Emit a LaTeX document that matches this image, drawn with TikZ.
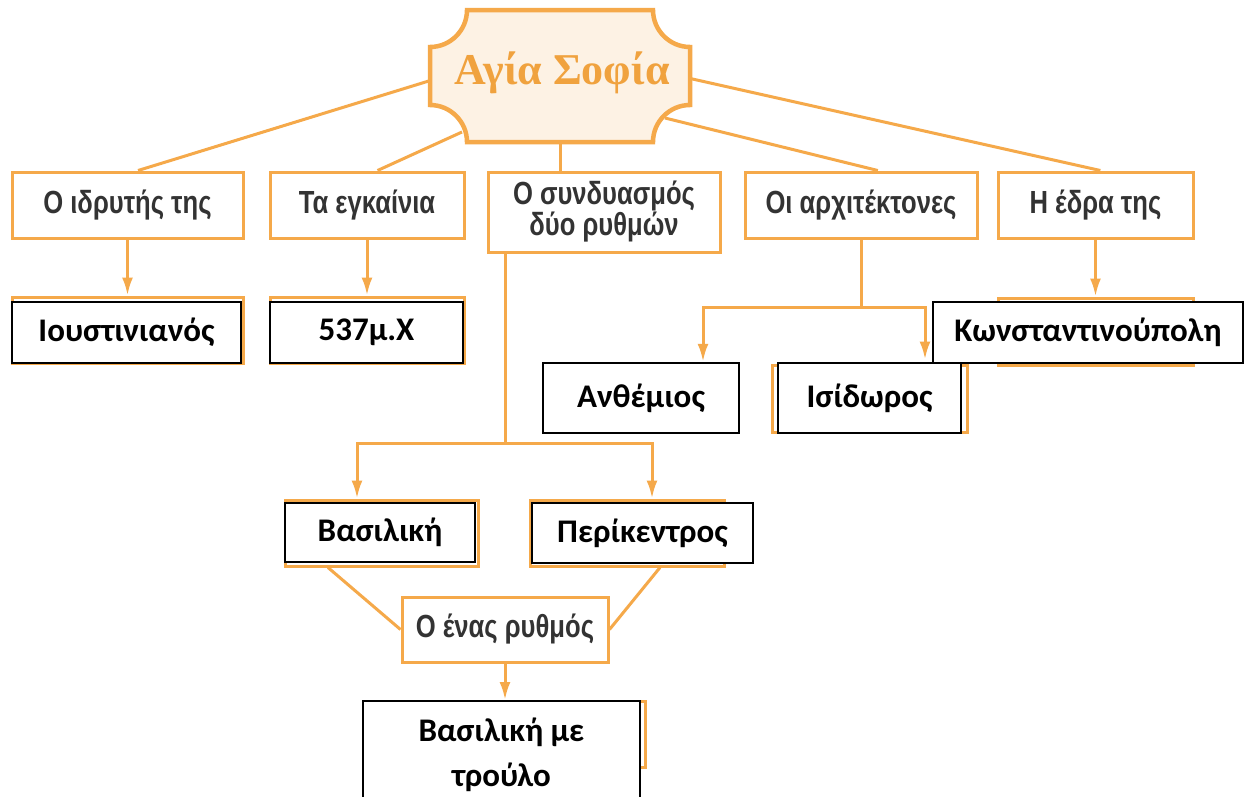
\documentclass[tikz,border=0pt]{standalone}
\usepackage{fontspec}
\setmainfont{Liberation Sans}
\newfontfamily\labelfont[FakeStretch=0.8]{Liberation Sans}
\newfontfamily\answerfont{Carlito}
\newfontfamily\titlefont{Liberation Serif}
\usetikzlibrary{arrows.meta,positioning,calc}

\definecolor{boxorange}{HTML}{F5A94A}
\definecolor{titlefill}{HTML}{FDF2E4}
\definecolor{titleorange}{HTML}{F0A23E}
\definecolor{labelgray}{HTML}{333333}

\begin{document}
\begin{tikzpicture}[x=1pt,y=-1pt,
  >={Latex[length=18pt,width=11pt]},
  topic/.style={draw=boxorange,fill=white,line width=3pt,inner sep=0pt,
    minimum height=66pt,font=\labelfont\bfseries\fontsize{32}{30}\selectfont,
    text=labelgray,align=center},
  slot/.style={draw=boxorange,fill=white,line width=3pt,inner sep=0pt,
    minimum height=66pt},
  answer/.style={draw=black,fill=white,line width=2.4pt,inner sep=0pt,
    font=\answerfont\bfseries\fontsize{33}{45}\selectfont,align=center},
  link/.style={draw=boxorange,line width=3pt}]

  \useasboundingbox (0,0) rectangle (1251,796);
  \fill[white] (0,0) rectangle (1251,796);
  \clip (0,0) rectangle (1251,796);

  % first row
  \node[topic,minimum width=231pt] (founder) at (127.5,205) {Ο ιδρυτής της};
  \node[topic,minimum width=194pt] (opening) at (367,205) {Τα εγκαίνια};
  \node[topic,minimum width=232pt,minimum height=80pt] (combo) at (604,212) {Ο συνδυασμός\\δύο ρυθμών};
  \node[topic,minimum width=232pt] (architects) at (861,205) {Οι αρχιτέκτονες};
  \node[topic,minimum width=195pt] (seat) at (1095.5,205) {Η έδρα της};

  % lines from the title
  \coordinate (tw) at (432,80);
  \coordinate (tsw) at (462,132);
  \coordinate (ts) at (560,140);
  \coordinate (tse) at (665,118);
  \coordinate (te) at (688,78);
  \draw[link] (tw) -- (founder.73);
  \draw[link] (tsw) -- (opening.73);
  \draw[link] (ts) -- (ts |- combo.north);
  \draw[link] (tse) -- (architects.64);
  \draw[link] (te) -- (seat.82);

  % title
  \draw[draw=boxorange,fill=titlefill,line width=4.5pt]
    (467,10) -- (653,10) .. controls (653,30.4) and (669.6,47) .. (690,47)
    -- (690,105) .. controls (669.6,105) and (653,121.6) .. (653,142)
    -- (467,142) .. controls (467,121.6) and (450.4,105) .. (430,105)
    -- (430,47) .. controls (450.4,47) and (467,30.4) .. (467,10) -- cycle;
  \node[font=\titlefont\bfseries\fontsize{44}{48}\selectfont,text=titleorange,
    anchor=base] (title) at (562,84) {Αγία Σοφία};

  % empty slots
  \node[slot,minimum width=231pt] (founderslot) at (127.5,330) {};
  \node[slot,minimum width=194pt] (openingslot) at (367,330) {};
  \node[slot,minimum width=195pt,minimum height=67pt] (seatslot) at (1095.5,331.5) {};
  \node[slot,minimum width=195pt,minimum height=67pt] (isidslot) at (869.5,398.5) {};
  \node[slot,minimum width=193pt] (basilslot) at (381.5,533) {};
  \node[slot,minimum width=194pt] (perislot) at (627,533) {};
  \node[topic,minimum width=206pt,minimum height=65pt] (onestyle) at (505,629.5) {Ο ένας ρυθμός};
  \node[slot,minimum width=278pt] (domeslot) at (506,734) {};

  % arrows
  \draw[link,->] (founder) -- (founderslot);
  \draw[link,->] (opening) -- (openingslot);
  \draw[link,->] (seat) -- (seatslot);

  \coordinate (archfork) at (861,307);
  \draw[link] (architects) -- (archfork);
  \draw[link,->] (archfork) -| ($(isidslot.north)+(55.5,-4)$);

  \coordinate (combofork) at (505,443);
  \draw[link] ($(combo.south)+(-99,0)$) -- (combofork);
  \draw[link,->] (combofork) -| ($(basilslot.north)+(-24.5,0)$);
  \draw[link,->] (combofork) -| ($(perislot.north)+(25,0)$);

  \draw[link] ($(basilslot.south)+(-53.5,0)$) -- (onestyle.west);
  \draw[link] ($(perislot.south)+(33,0)$) -- (onestyle.east);

  % answers
  \node[answer,minimum width=229pt,minimum height=61pt] (justinian) at (126.5,332.5) {Ιουστινιανός};
  \node[answer,minimum width=193pt,minimum height=61pt] (year) at (366.5,332.5) {537μ.Χ};
  \node[answer,minimum width=196pt,minimum height=70pt] (anthemius) at (641,398) {Ανθέμιος};
  \node[answer,minimum width=183pt,minimum height=70pt] (isidore) at (869.5,398) {Ισίδωρος};
  \node[answer,minimum width=310pt,minimum height=61pt] (constantinople) at (1088,332.5) {Κωνσταντινούπολη};
  \node[answer,minimum width=190pt,minimum height=59pt] (basilica) at (380,532.5) {Βασιλική};
  \node[answer,minimum width=221pt,minimum height=60pt] (rotunda) at (642.5,533) {Περίκεντρος};
  \node[answer,minimum width=277pt,anchor=north,inner ysep=17pt] (domed) at (501.5,700) {Βασιλική με\\τρούλο};

  \draw[link,->] (archfork) -| ($(anthemius.north)+(62,0)$);
  \draw[link,->] (onestyle.south) -- (onestyle.south |- domed.north);
\end{tikzpicture}
\end{document}
